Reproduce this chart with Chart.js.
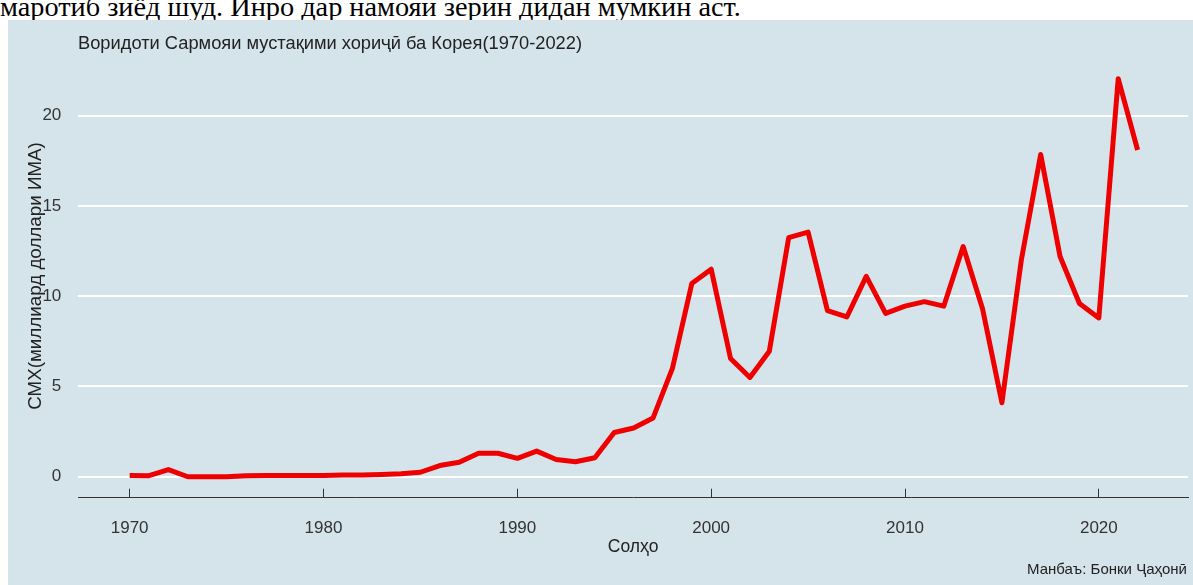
<!DOCTYPE html>
<html>
<head>
<meta charset="utf-8">
<script src="https://cdn.jsdelivr.net/npm/chart.js@4.4.1/dist/chart.umd.min.js"></script>
<style>
  body { margin: 0; width: 1193px; height: 585px; overflow: hidden; background: #fff; position: relative; font-family: "Liberation Sans", Arial, sans-serif; }
  #intro { position: absolute; left: 0; top: -7px; font-family: "Liberation Serif", "Times New Roman", serif; font-size: 28.3px; line-height: 28px; white-space: nowrap; color: #000; }
  #panel { position: absolute; left: 8px; top: 20px; width: 1185px; height: 565px; background: #d5e4eb; }
  #title { position: absolute; left: 78px; top: 32px; font-size: 18.3px; line-height: 22px; color: #222; white-space: nowrap; }
  #caption { position: absolute; right: 6px; top: 560px; font-size: 15px; line-height: 17px; color: #222; white-space: nowrap; }
  #chart { position: absolute; left: 0; top: 0; }
</style>
</head>
<body>
<div id="intro">маротиб зиёд шуд. Инро дар намояи зерин дидан мумкин аст.</div>
<div id="panel"><canvas id="chart" width="1185" height="565"></canvas></div>
<div id="title">Воридоти Сармояи мустақими хориҷӣ ба Корея(1970-2022)</div>
<div id="caption">Манбаъ: Бонки Ҷаҳонӣ</div>
<script>
// FDI inflows to Korea, billion USD
const years = [1970, 1971, 1972, 1973, 1974, 1975, 1976, 1977, 1978, 1979,
  1980, 1981, 1982, 1983, 1984, 1985, 1986, 1987, 1988, 1989,
  1990, 1991, 1992, 1993, 1994, 1995, 1996, 1997, 1998, 1999,
  2000, 2001, 2002, 2003, 2004, 2005, 2006, 2007, 2008, 2009,
  2010, 2011, 2012, 2013, 2014, 2015, 2016, 2017, 2018, 2019,
  2020, 2021, 2022];
const fdi = [0.07, 0.06, 0.40, 0.00, 0.00, 0.00, 0.06, 0.07, 0.07, 0.07,
  0.07, 0.10, 0.10, 0.13, 0.17, 0.25, 0.62, 0.80, 1.30, 1.30,
  1.02, 1.42, 0.96, 0.83, 1.05, 2.45, 2.70, 3.25, 6.00, 10.70,
  11.50, 6.55, 5.50, 6.95, 13.25, 13.55, 9.20, 8.85, 11.10, 9.05,
  9.45, 9.70, 9.45, 12.75, 9.30, 4.10, 12.00, 17.85, 12.20, 9.60,
  8.80, 22.05, 18.10];
const xTicks = [1970, 1980, 1990, 2000, 2010, 2020];
const yTicks = [0, 5, 10, 15, 20];

const ctx = document.getElementById('chart');
new Chart(ctx, {
  type: 'line',
  data: {
    datasets: [{
      data: years.map((y, i) => ({ x: y, y: fdi[i] })),
      borderColor: 'rgb(238, 0, 0)',
      borderWidth: 5,
      pointRadius: 0,
      tension: 0,
      fill: false,
      borderJoinStyle: 'round',
      borderCapStyle: 'butt'
    }]
  },
  options: {
    responsive: false,
    animation: false,
    devicePixelRatio: 1,
    layout: { padding: { top: 34.3, right: 5, left: 0, bottom: 0 } },
    plugins: { legend: { display: false }, tooltip: { enabled: false } },
    scales: {
      x: {
        type: 'linear',
        min: 1967.35,
        max: 2024.6,
        afterBuildTicks: s => { s.ticks = xTicks.map(v => ({ value: v })); },
        afterFit: s => { s.height = 87.3; },
        grid: { drawOnChartArea: false, drawTicks: true, tickLength: -9, tickColor: '#333', tickWidth: 1 },
        border: { display: true, color: '#333', width: 1 },
        ticks: { color: '#333', font: { size: 17 }, padding: 29, maxRotation: 0, autoSkip: false, callback: v => String(v) },
        title: { display: true, text: 'Солҳо', color: '#222', font: { size: 17.5 }, padding: { top: 0, bottom: 27 } }
      },
      y: {
        min: -1.16,
        max: 23.4,
        afterBuildTicks: s => { s.ticks = yTicks.map(v => ({ value: v })); },
        afterFit: s => { s.width = 70.3; },
        grid: { color: '#fff', lineWidth: 2, drawTicks: false },
        border: { display: false },
        ticks: { color: '#333', font: { size: 17 }, padding: 17 },
        title: { display: true, text: 'СМХ(миллиард доллари ИМА)', color: '#222', font: { size: 18.8 }, padding: { top: 16.5, bottom: 0 } }
      }
    }
  }
});
</script>
</body>
</html>
